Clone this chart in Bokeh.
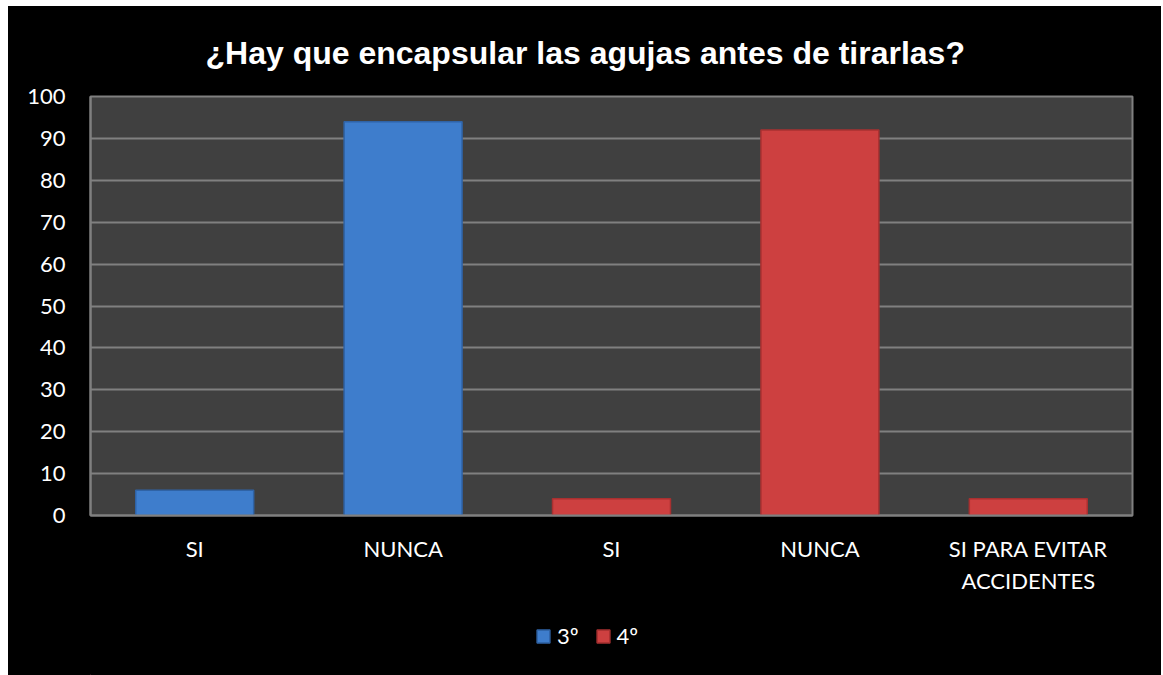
from bokeh.plotting import figure
from bokeh.layouts import column
from bokeh.models import ColumnDataSource, Legend, LegendItem, FixedTicker, Range1d
from bokeh.embed import file_html
from bokeh.resources import INLINE

# ---- data ----
categories = ["SI", "NUNCA", "SI", "NUNCA", "SI PARA EVITAR\nACCIDENTES"]
series_names = ["3º", "4º"]
values_3 = [6, 94]           # categories 0,1
values_4 = [4, 92, 4]        # categories 2,3,4
pos_3 = [0, 1]
pos_4 = [2, 3, 4]
y_ticks = [0, 10, 20, 30, 40, 50, 60, 70, 80, 90, 100]

BLUE = "#3e7dcc"
BLUE_EDGE = "#2f63a6"
RED = "#cd4040"
RED_EDGE = "#a83030"
FONT = "Lato"
BLACK_CSS = {"background-color": "black"}

p = figure(width=1153, height=600, output_backend="svg", toolbar_location=None,
           x_range=Range1d(-0.5, 4.5), y_range=Range1d(0, 100),
           background_fill_color="#404040", border_fill_color="black",
           min_border_left=82, min_border_right=29, min_border_top=90, min_border_bottom=91,
           styles=BLACK_CSS)

p.title.text = "¿Hay que encapsular las agujas antes de tirarlas?"
p.title.align = "left"
p.title.offset = 115
p.title.vertical_align = "top"
p.title.text_color = "white"
p.title.text_font = "Liberation Sans"
p.title.text_font_size = "32px"
p.title.text_font_style = "bold"
p.title.standoff = 48

p.outline_line_color = "#808080"
p.outline_line_width = 2

src3 = ColumnDataSource(dict(x=pos_3, top=values_3))
src4 = ColumnDataSource(dict(x=pos_4, top=values_4))
p.vbar(x="x", top="top", width=0.566, bottom=0, source=src3,
       fill_color=BLUE, line_color=BLUE_EDGE, line_width=1.5)
p.vbar(x="x", top="top", width=0.566, bottom=0, source=src4,
       fill_color=RED, line_color=RED_EDGE, line_width=1.5)

# axes
p.xaxis.ticker = FixedTicker(ticks=list(range(len(categories))))
p.xaxis.major_label_overrides = {i: c for i, c in enumerate(categories)}
p.yaxis.ticker = FixedTicker(ticks=y_ticks)
for ax in (p.xaxis[0], p.yaxis[0]):
    ax.axis_line_color = "#808080"
    ax.axis_line_width = 2
    ax.major_tick_line_color = None
    ax.minor_tick_line_color = None
    ax.major_label_text_color = "white"
    ax.major_label_text_font = FONT
    ax.major_label_text_font_size = "22px"
p.xaxis.major_label_standoff = 13
p.yaxis.major_label_standoff = 19

p.xgrid.grid_line_color = None
p.ygrid.grid_line_color = "#808080"
p.ygrid.grid_line_width = 2

# ---- legend strip (separate figure so the legend is not clipped) ----
lg = figure(width=1153, height=69, output_backend="svg", toolbar_location=None,
            x_range=Range1d(100, 101), y_range=Range1d(100, 101),
            background_fill_color="black", border_fill_color="black",
            min_border=0, styles=BLACK_CSS)
lg.outline_line_color = None
lg.axis.visible = False
lg.grid.visible = False
e3 = lg.vbar(x="x", top="top", width=0.5, bottom=0, source=src3,
             fill_color=BLUE, line_color=BLUE_EDGE, line_width=1.5)
e4 = lg.vbar(x="x", top="top", width=0.5, bottom=0, source=src4,
             fill_color=RED, line_color=RED_EDGE, line_width=1.5)
legend = Legend(items=[LegendItem(label=series_names[0], renderers=[e3], index=0),
                       LegendItem(label=series_names[1], renderers=[e4], index=0)],
                orientation="horizontal", location=(445, 26),
                background_fill_alpha=0, border_line_color=None,
                label_text_color="white", label_text_font=FONT,
                label_text_font_size="22px", glyph_width=16, glyph_height=16,
                label_standoff=6, spacing=16, margin=0, padding=0)
lg.add_layout(legend, "center")

layout = column(p, lg, spacing=0, margin=(6, 0, 0, 8), styles=BLACK_CSS)

open("out.html", "w").write(file_html(layout, INLINE))
